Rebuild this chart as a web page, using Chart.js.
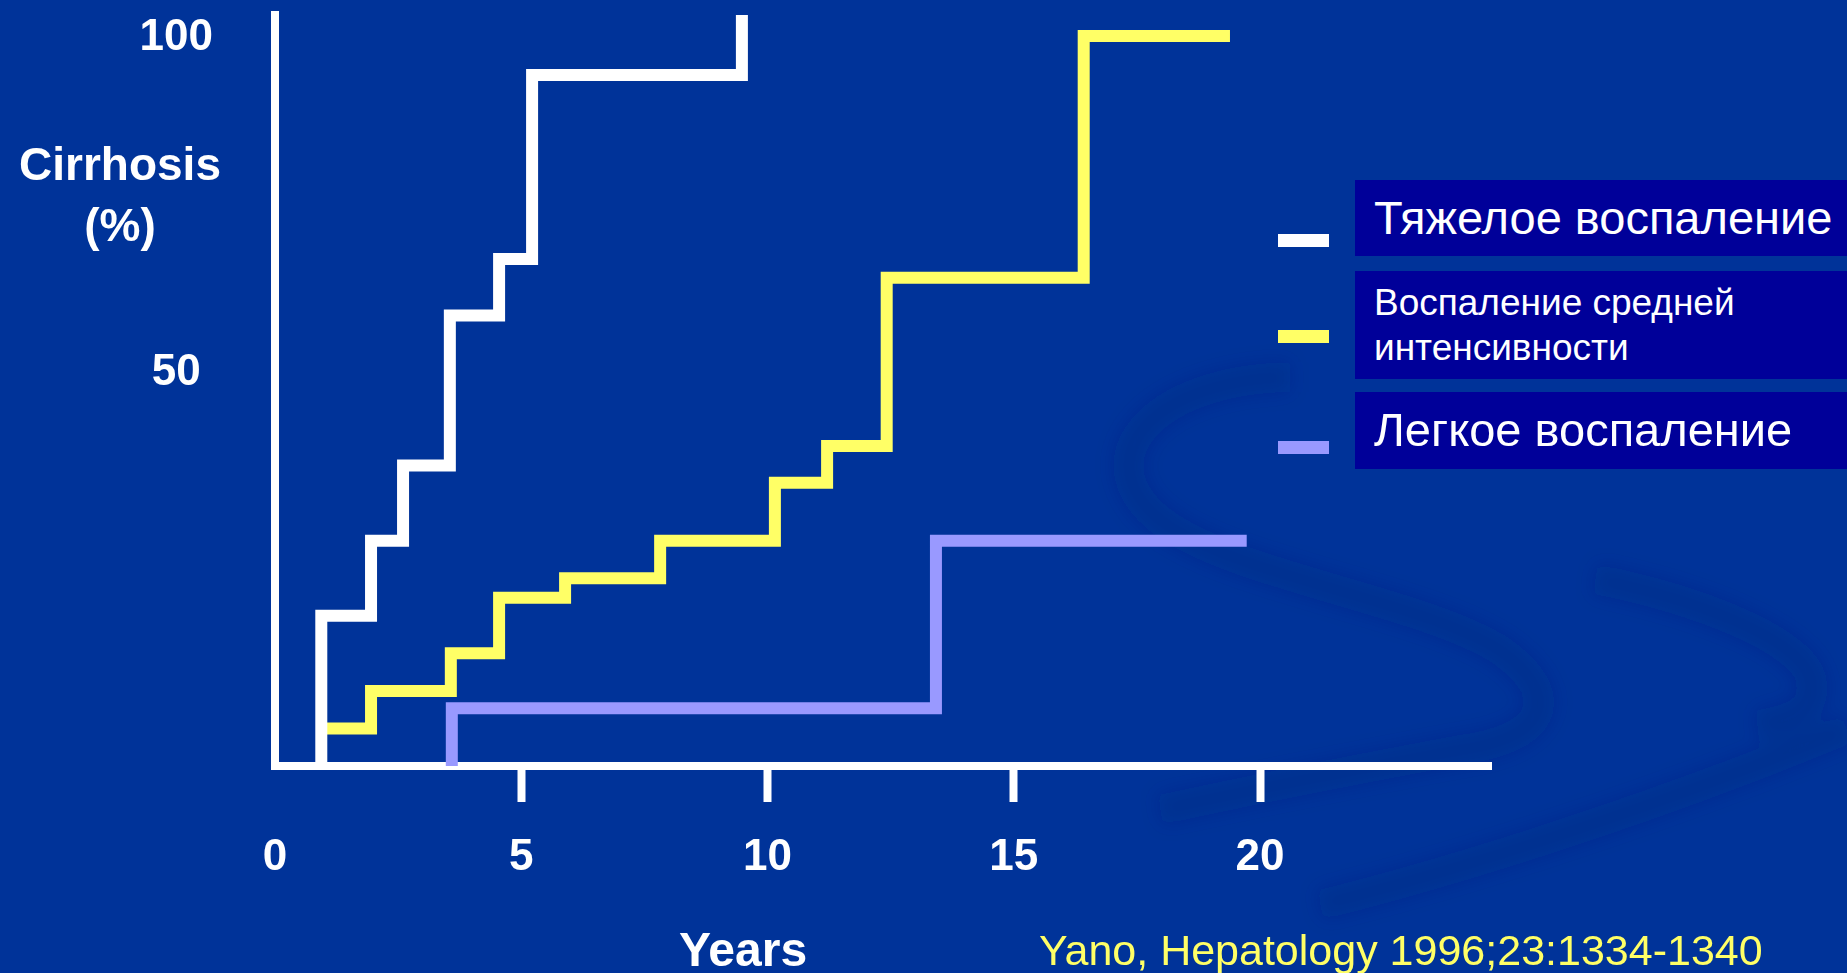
<!DOCTYPE html>
<html>
<head>
<meta charset="utf-8">
<script src="https://cdn.jsdelivr.net/npm/chart.js@4.4.1/dist/chart.umd.min.js"></script>
<style>
  html, body { margin: 0; padding: 0; }
  body {
    width: 1847px; height: 973px; overflow: hidden; position: relative;
    background: #003399; color: #fff;
    font-family: "Liberation Sans", Arial, sans-serif;
  }
  #swoosh { position: absolute; left: 0; top: 0; }
  #chart { position: absolute; left: 0; top: 0; }
  .txt { position: absolute; white-space: nowrap; }
  .swatch { position: absolute; left: 1278px; width: 51px; height: 13px; }
  .box { position: absolute; left: 1355px; width: 492px; background: #000099; }
  .box span { position: absolute; left: 19px; white-space: nowrap; }
</style>
</head>
<body>
<svg id="swoosh" width="1847" height="973">
  <defs><filter id="blur"><feGaussianBlur stdDeviation="9"/></filter></defs>
  <g fill="none" stroke="#00246e" stroke-opacity="0.2" stroke-width="30" filter="url(#blur)">
    <path d="M 1290 377 C 1150 380, 1085 460, 1160 520 C 1230 575, 1420 600, 1500 650 C 1570 700, 1540 740, 1460 750 C 1380 765, 1250 790, 1160 810"/>
    <path d="M 1595 579 C 1700 600, 1800 640, 1811 678 C 1820 710, 1790 720, 1757 725"/>
    <path d="M 1847 729 C 1700 790, 1500 860, 1320 905"/>
  </g>
</svg>
<canvas id="chart" width="1847" height="973"></canvas>

<div class="txt" style="left:0; width:240px; top:134px; text-align:center; font-weight:bold; font-size:46px; line-height:61px;">Cirrhosis<br>(%)</div>
<div class="txt" style="left:679px; top:926px; font-weight:bold; font-size:48px; line-height:48px;">Years</div>
<div class="txt" style="left:1039px; top:929px; font-size:43px; line-height:43px; color:#ffff66;">Yano, Hepatology 1996;23:1334-1340</div>

<div class="swatch" style="top:234px; background:#ffffff;"></div>
<div class="swatch" style="top:330px; background:#ffff66;"></div>
<div class="swatch" style="top:441px; background:#9999ff;"></div>

<div class="box" style="top:180px; height:76px;"><span style="top:14px; font-size:47px; line-height:47px;">Тяжелое воспаление</span></div>
<div class="box" style="top:271px; height:108px;"><span style="top:9px; font-size:37px; line-height:45px;">Воспаление средней<br>интенсивности</span></div>
<div class="box" style="top:392px; height:77px;"><span style="top:14px; font-size:47px; line-height:47px;">Легкое воспаление</span></div>

<script>
// Cumulative incidence of cirrhosis (%) by years of follow-up
const severeYears = [0.94, 0.94, 1.95, 2.60, 3.55, 4.55, 5.22, 9.48];
const severeRate = [0, 20, 30, 40, 60, 67.5, 92, 100];

const moderateYears = [0.94, 1.95, 3.57, 4.55, 5.89, 7.82, 10.15, 11.21, 12.42, 16.42, 19.39];
const moderateRate = [5, 10, 15, 22.4, 25, 30, 37.7, 42.6, 65, 97.2, 97.2];

const mildYears = [3.59, 3.59, 13.42, 19.73];
const mildRate = [0, 7.7, 30, 30];

const seriesNames = ['Тяжелое воспаление', 'Воспаление средней интенсивности', 'Легкое воспаление'];
const seriesColors = ['#ffffff', '#ffff66', '#9999ff'];

const xTicks = [0, 5, 10, 15, 20];
const yTicks = [50, 100];

const fontFamily = '"Liberation Sans", Arial, sans-serif';

function toPoints(xs, ys) {
    return xs.map((x, i) => ({ x: x, y: ys[i] }));
}

function stepLine(label, color, points) {
    return {
        label: label,
        data: points,
        borderColor: color,
        borderWidth: 12,
        borderJoinStyle: 'miter',
        borderCapStyle: 'butt',
        stepped: 'before',
        pointRadius: 0,
        fill: false
    };
}

const ctx = document.getElementById('chart').getContext('2d');

new Chart(ctx, {
    type: 'line',
    data: {
        datasets: [
            stepLine(seriesNames[0], seriesColors[0], toPoints(severeYears, severeRate)),
            stepLine(seriesNames[1], seriesColors[1], toPoints(moderateYears, moderateRate)),
            stepLine(seriesNames[2], seriesColors[2], toPoints(mildYears, mildRate))
        ]
    },
    options: {
        responsive: false,
        devicePixelRatio: 1,
        animation: false,
        layout: { padding: { left: 0, top: 15, right: 356, bottom: 0 } },
        plugins: {
            legend: { display: false },
            tooltip: { enabled: false }
        },
        scales: {
            x: {
                type: 'linear',
                min: 0,
                max: 24.69,
                afterBuildTicks: (scale) => { scale.ticks = xTicks.map(v => ({ value: v })); },
                afterFit: (scale) => {
                    scale.height = 207;
                    scale.paddingLeft = 0;
                    scale.paddingRight = 0;
                },
                border: { color: '#ffffff', width: 8 },
                grid: {
                    drawOnChartArea: false,
                    drawTicks: true,
                    tickLength: 36,
                    tickWidth: 8,
                    tickColor: (c) => (c.tick && c.tick.value === 0) ? 'rgba(0,0,0,0)' : '#ffffff'
                },
                ticks: {
                    color: '#ffffff',
                    padding: 29,
                    maxRotation: 0,
                    autoSkip: false,
                    font: { family: fontFamily, size: 44, weight: 'bold', lineHeight: 1.2 }
                }
            },
            y: {
                type: 'linear',
                min: 0,
                max: 100,
                afterBuildTicks: (scale) => { scale.ticks = yTicks.map(v => ({ value: v })); },
                afterFit: (scale) => {
                    scale.width = 275;
                    scale.paddingTop = 0;
                    scale.paddingBottom = 0;
                },
                border: { color: '#ffffff', width: 8 },
                grid: { display: false },
                ticks: {
                    color: '#ffffff',
                    crossAlign: 'center',
                    padding: 54,
                    // labels in the original sit a little off their tick: push 100 down, 50 up
                    callback: (v) => v === 100 ? ['', '100'] : [String(v), ''],
                    font: (c) => ({
                        family: fontFamily,
                        size: 44,
                        weight: 'bold',
                        lineHeight: (c.tick && c.tick.value === 100) ? '45px' : '36px'
                    })
                }
            }
        }
    }
});
</script>
</body>
</html>
